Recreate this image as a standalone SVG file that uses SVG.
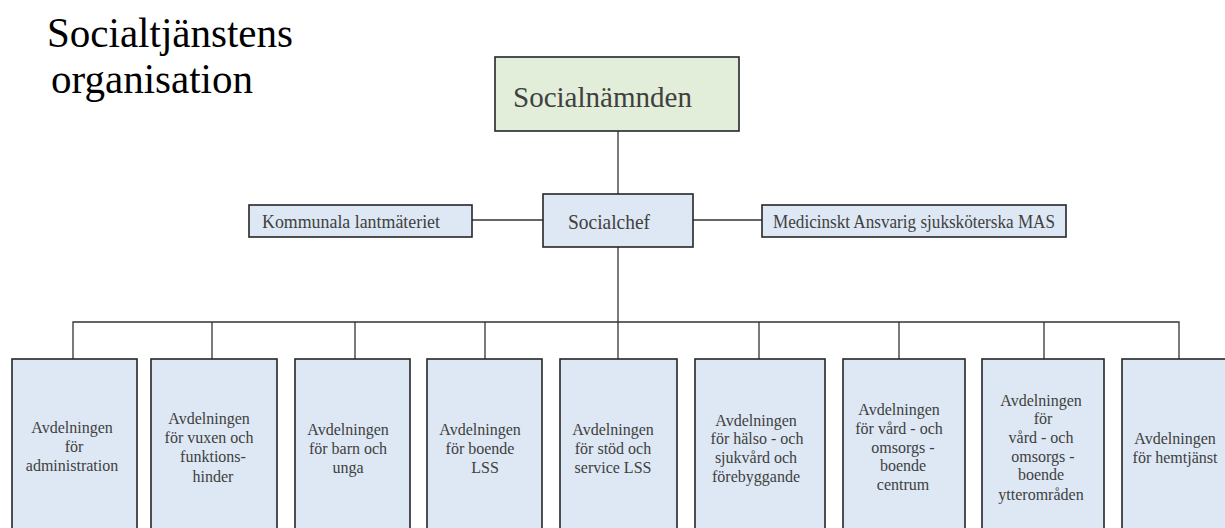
<svg xmlns="http://www.w3.org/2000/svg" width="1225" height="528" viewBox="0 0 1225 528">
<style>
.box{fill:#dde8f4;stroke:#262626;stroke-width:1.6}
.green{fill:#e2eed9;stroke:#262626;stroke-width:1.6}
.con{fill:none;stroke:#333333;stroke-width:1.3}
.t{font-family:"Liberation Serif","Times New Roman",serif;fill:#404040}
.b{font-family:"Liberation Serif","Times New Roman",serif;fill:#404040;font-size:16px;text-anchor:middle}
.title{font-family:"Liberation Serif","Times New Roman",serif;fill:#000000;font-size:42px}
</style>
<rect width="1225" height="528" fill="#ffffff"/>
<g id="title">
<text class="title" x="47" y="47" textLength="246" lengthAdjust="spacingAndGlyphs">Socialtjänstens</text>
<text class="title" x="51" y="93" textLength="202" lengthAdjust="spacingAndGlyphs">organisation</text>
</g>
<g id="connectors">
<line class="con" x1="618" y1="131" x2="618" y2="194"/>
<line class="con" x1="472" y1="220" x2="543" y2="220"/>
<line class="con" x1="693" y1="220" x2="762" y2="220"/>
<line class="con" x1="618" y1="247" x2="618" y2="359"/>
<polyline class="con" points="73,359 73,322 1179,322 1179,359"/>
<line class="con" x1="212" y1="322" x2="212" y2="359"/>
<line class="con" x1="355" y1="322" x2="355" y2="359"/>
<line class="con" x1="485" y1="322" x2="485" y2="359"/>
<line class="con" x1="759" y1="322" x2="759" y2="359"/>
<line class="con" x1="899" y1="322" x2="899" y2="359"/>
<line class="con" x1="1044" y1="322" x2="1044" y2="359"/>
</g>
<g id="socialnamnden">
<rect class="green" x="495" y="57" width="244" height="74"/>
<text class="t" x="513" y="107" font-size="30" textLength="179" lengthAdjust="spacingAndGlyphs">Socialnämnden</text>
</g>
<g id="socialchef">
<rect class="box" x="543" y="194" width="150" height="53"/>
<text class="t" x="568" y="229" font-size="21" textLength="82" lengthAdjust="spacingAndGlyphs">Socialchef</text>
</g>
<g id="lantmateriet">
<rect class="box" x="249" y="205" width="223" height="32"/>
<text class="t" x="262" y="228" font-size="18" textLength="178" lengthAdjust="spacingAndGlyphs">Kommunala lantmäteriet</text>
</g>
<g id="mas">
<rect class="box" x="762" y="205" width="304" height="32"/>
<text class="t" x="773" y="228" font-size="18" textLength="282" lengthAdjust="spacingAndGlyphs">Medicinskt Ansvarig sjuksköterska MAS</text>
</g>
<g id="avd-administration">
<rect class="box" x="12" y="359" width="125" height="185"/>
<text class="b" x="72" y="433">Avdelningen</text>
<text class="b" x="74" y="452">för</text>
<text class="b" x="72" y="471">administration</text>
</g>
<g id="avd-vuxen">
<rect class="box" x="151" y="359" width="126" height="185"/>
<text class="b" x="209" y="424">Avdelningen</text>
<text class="b" x="209" y="443">för vuxen och</text>
<text class="b" x="213" y="462">funktions-</text>
<text class="b" x="213" y="482">hinder</text>
</g>
<g id="avd-barn">
<rect class="box" x="295" y="359" width="115" height="185"/>
<text class="b" x="348" y="435">Avdelningen</text>
<text class="b" x="348" y="454">för barn och</text>
<text class="b" x="348" y="473">unga</text>
</g>
<g id="avd-boende-lss">
<rect class="box" x="427" y="359" width="115" height="185"/>
<text class="b" x="480" y="435">Avdelningen</text>
<text class="b" x="480" y="454">för boende</text>
<text class="b" x="485" y="473">LSS</text>
</g>
<g id="avd-stod">
<rect class="box" x="560" y="359" width="117" height="185"/>
<text class="b" x="613" y="435">Avdelningen</text>
<text class="b" x="613" y="454">för stöd och</text>
<text class="b" x="613" y="473">service LSS</text>
</g>
<g id="avd-halso">
<rect class="box" x="695" y="359" width="130" height="185"/>
<text class="b" x="756" y="426">Avdelningen</text>
<text class="b" x="757" y="444">för hälso -  och</text>
<text class="b" x="756" y="463">sjukvård och</text>
<text class="b" x="756" y="482">förebyggande</text>
</g>
<g id="avd-vard-centrum">
<rect class="box" x="843" y="359" width="122" height="185"/>
<text class="b" x="899" y="415">Avdelningen</text>
<text class="b" x="899" y="434">för vård -  och</text>
<text class="b" x="903" y="453">omsorgs -</text>
<text class="b" x="903" y="471">boende</text>
<text class="b" x="903" y="490">centrum</text>
</g>
<g id="avd-vard-ytter">
<rect class="box" x="982" y="359" width="122" height="185"/>
<text class="b" x="1041" y="406">Avdelningen</text>
<text class="b" x="1043" y="424">för</text>
<text class="b" x="1041" y="443">vård -  och</text>
<text class="b" x="1043" y="462">omsorgs -</text>
<text class="b" x="1041" y="480">boende</text>
<text class="b" x="1041" y="500">ytterområden</text>
</g>
<g id="avd-hemtjanst">
<rect class="box" x="1122" y="359" width="114" height="185"/>
<text class="b" x="1175" y="444">Avdelningen</text>
<text class="b" x="1175" y="463">för hemtjänst</text>
</g>
</svg>
